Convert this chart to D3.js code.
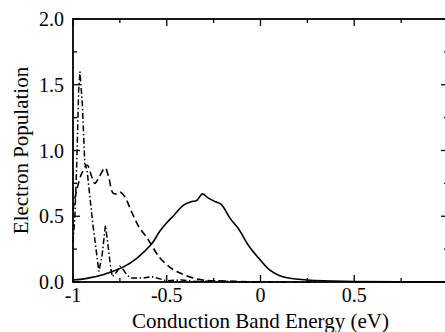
<!DOCTYPE html>
<html>
<head>
<meta charset="utf-8">
<script src="https://cdn.jsdelivr.net/npm/d3@7"></script>
<style>
  body { margin: 0; background: #fff; }
  svg { display: block; }
</style>
</head>
<body>
<div id="chart"></div>
<script>
// solid curve
var solidX = [-1, -0.96, -0.9, -0.84, -0.78, -0.73, -0.66, -0.58, -0.54, -0.5, -0.46, -0.41, -0.37, -0.34, -0.31, -0.28, -0.24, -0.21, -0.16, -0.12, -0.06, 0, 0.05, 0.1, 0.15, 0.25, 0.37, 0.5, 1];
var solidY = [0.015, 0.02, 0.035, 0.055, 0.085, 0.115, 0.18, 0.29, 0.38, 0.45, 0.51, 0.585, 0.61, 0.62, 0.67, 0.64, 0.61, 0.59, 0.48, 0.41, 0.27, 0.165, 0.09, 0.05, 0.03, 0.015, 0.008, 0.003, 0];

// dashed curve
var dashX = [-1, -0.98, -0.955, -0.925, -0.9, -0.883, -0.86, -0.829, -0.81, -0.787, -0.765, -0.749, -0.723, -0.685, -0.648, -0.605, -0.536, -0.467, -0.429, -0.376, -0.307, -0.216, -0.1, 0];
var dashY = [0.55, 0.7, 0.82, 0.89, 0.8, 0.75, 0.8, 0.867, 0.8, 0.677, 0.67, 0.684, 0.646, 0.525, 0.418, 0.335, 0.183, 0.095, 0.068, 0.038, 0.015, 0.008, 0.003, 0];

// dash-dot curve
var dotX = [-1, -0.99, -0.98, -0.97, -0.963, -0.95, -0.937, -0.925, -0.895, -0.862, -0.845, -0.827, -0.815, -0.8, -0.79, -0.765, -0.75, -0.735, -0.71, -0.69, -0.63, -0.58, -0.5, -0.42, -0.35, -0.25, -0.1, 0.1, 0.3];
var dotY = [0.3, 0.5, 0.9, 1.45, 1.6, 1.35, 0.9, 0.85, 0.45, 0.08, 0.2, 0.43, 0.3, 0.12, 0.04, 0.08, 0.12, 0.1, 0.05, 0.03, 0.03, 0.04, 0.01, 0.015, 0.004, 0.008, 0.002, 0.001, 0];

var xTickValues = [-1, -0.5, 0, 0.5];
var xTickLabels = ["-1", "-0.5", "0", "0.5"];
var yTickValues = [0, 0.5, 1, 1.5, 2];
var yTickLabels = ["0.0", "0.5", "1.0", "1.5", "2.0"];

var width = 445, height = 332;
var margin = { top: 19, right: -3, bottom: 50, left: 73 };
var serif = "'Liberation Serif', 'Times New Roman', Times, 'DejaVu Serif', serif";

var svg = d3.select("#chart")
    .append("svg")
    .attr("width", width)
    .attr("height", height)
    .attr("font-family", serif);

var x = d3.scaleLinear()
    .domain([-1, 1])
    .range([margin.left, width - margin.right]);

var y = d3.scaleLinear()
    .domain([0, 2])
    .range([height - margin.bottom, margin.top]);

var fontSize = 20;

// Ticks (inward, every 0.25)
var minorX = d3.range(-1, 1.001, 0.25);
var minorY = d3.range(0, 2.001, 0.25);
function isMajor(v) { return Math.abs(v * 2 - Math.round(v * 2)) < 1e-6; }

var ticks = svg.append("g").attr("stroke", "#000").attr("stroke-width", 1.3);
minorX.forEach(function (v) {
    var len = isMajor(v) ? 7 : 4;
    ticks.append("line").attr("x1", x(v)).attr("x2", x(v)).attr("y1", y(0)).attr("y2", y(0) - len);
    ticks.append("line").attr("x1", x(v)).attr("x2", x(v)).attr("y1", y(2)).attr("y2", y(2) + len);
});
minorY.forEach(function (v) {
    var len = isMajor(v) ? 7 : 4;
    ticks.append("line").attr("x1", x(-1)).attr("x2", x(-1) + len).attr("y1", y(v)).attr("y2", y(v));
    ticks.append("line").attr("x1", x(1)).attr("x2", x(1) - len).attr("y1", y(v)).attr("y2", y(v));
});

// Tick labels
svg.append("g").selectAll("text")
    .data(xTickValues)
    .enter()
    .append("text")
    .attr("x", function (d) { return x(d); })
    .attr("y", y(0) + 20)
    .attr("text-anchor", "middle")
    .style("font-size", fontSize + "px")
    .text(function (d, i) { return xTickLabels[i]; });

svg.append("g").selectAll("text")
    .data(yTickValues)
    .enter()
    .append("text")
    .attr("x", x(-1) - 9)
    .attr("y", function (d) { return y(d); })
    .attr("dy", "0.35em")
    .attr("text-anchor", "end")
    .style("font-size", fontSize + "px")
    .text(function (d, i) { return yTickLabels[i]; });

// Curves
var line = d3.line()
    .x(function (d) { return x(d[0]); })
    .y(function (d) { return y(d[1]); });

svg.append("path")
    .datum(d3.zip(solidX, solidY))
    .attr("fill", "none")
    .attr("stroke", "#000")
    .attr("stroke-width", 1.6)
    .attr("d", line.curve(d3.curveCatmullRom));

svg.append("path")
    .datum(d3.zip(dashX, dashY))
    .attr("fill", "none")
    .attr("stroke", "#000")
    .attr("stroke-width", 1.6)
    .attr("stroke-dasharray", "7,4")
    .attr("d", line.curve(d3.curveCatmullRom));

svg.append("path")
    .datum(d3.zip(dotX, dotY))
    .attr("fill", "none")
    .attr("stroke", "#000")
    .attr("stroke-width", 1.5)
    .attr("stroke-dasharray", "6,2.5,1.5,2.5")
    .attr("d", line.curve(d3.curveLinear));

// Frame
svg.append("rect")
    .attr("x", x(-1))
    .attr("y", y(2))
    .attr("width", x(1) - x(-1))
    .attr("height", y(0) - y(2))
    .attr("fill", "none")
    .attr("stroke", "#000")
    .attr("stroke-width", 1.8);

// Axis labels
svg.append("text")
    .attr("x", (x(-1) + x(1)) / 2)
    .attr("y", 328)
    .attr("text-anchor", "middle")
    .style("font-size", "21px")
    .text("Conduction Band Energy (eV)");

svg.append("text")
    .attr("transform", "translate(28," + ((y(0) + y(2)) / 2) + ") rotate(-90)")
    .attr("text-anchor", "middle")
    .style("font-size", "21px")
    .text("Electron Population");
</script>
</body>
</html>
